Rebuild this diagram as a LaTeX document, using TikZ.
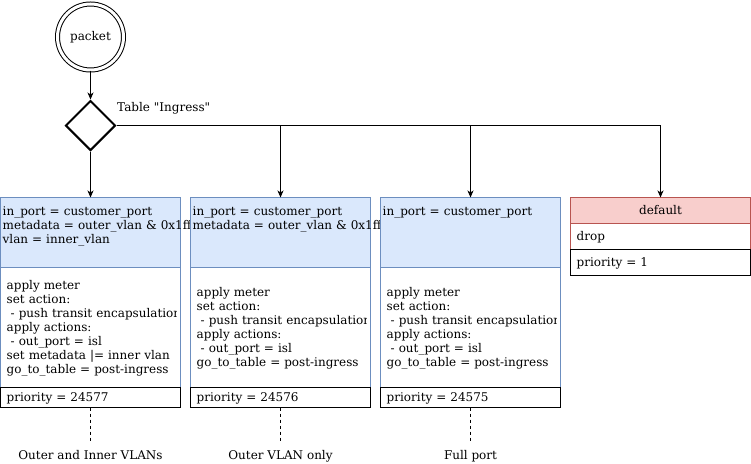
\documentclass[tikz,border=0pt]{standalone}
\usepackage{fontspec}
\setmainfont{DejaVu Serif}[Ligatures=TeXOff]
\usetikzlibrary{shapes.geometric,arrows.meta}
\definecolor{bfill}{HTML}{DAE8FC}
\definecolor{bstroke}{HTML}{6C8EBF}
\definecolor{rfill}{HTML}{F8CECC}
\definecolor{rstroke}{HTML}{B85450}
\tikzset{
  arr/.style={draw=black, line width=1pt, -{Stealth[length=7pt,width=6pt,inset=2pt]}},
  dashline/.style={draw=black, line width=1pt, dash pattern=on 3pt off 3pt},
  hdr/.style={draw=bstroke, fill=bfill, rectangle, minimum width=180pt, minimum height=70pt, anchor=north west, inner sep=0pt, outer sep=0pt, line width=1pt},
  bodybox/.style={draw=bstroke, fill=white, rectangle, minimum width=180pt, minimum height=120pt, anchor=north west, inner sep=0pt, outer sep=0pt, line width=1pt},
  priobox/.style={draw=black, fill=white, rectangle, minimum width=180pt, minimum height=20pt, anchor=north west, inner sep=0pt, outer sep=0pt, line width=1pt},
  rhdr/.style={draw=rstroke, fill=rfill, rectangle, minimum width=180pt, minimum height=26pt, anchor=north west, inner sep=0pt, outer sep=0pt, line width=1pt},
  rbody/.style={draw=rstroke, fill=white, rectangle, minimum width=180pt, minimum height=26pt, anchor=north west, inner sep=0pt, outer sep=0pt, line width=1pt},
  rprio/.style={draw=black, fill=white, rectangle, minimum width=180pt, minimum height=26pt, anchor=north west, inner sep=0pt, outer sep=0pt, line width=1pt},
  txt/.style={inner sep=0pt, anchor=base west, text width=320pt, align=left},
  lbl/.style={inner xsep=0pt, inner ysep=6.5pt, anchor=base},
}
\begin{document}
\begin{tikzpicture}[x=1pt,y=-1pt,font=\fontsize{12}{14}\selectfont]
\useasboundingbox (0,0) rectangle (751,463);

% start
\node[circle, draw, line width=1pt, double, double distance=3pt, minimum size=66pt, inner sep=0pt] (pkt) at (90.5,37) {packet};
\node[diamond, draw, line width=2pt, minimum size=50pt, inner sep=0pt, aspect=1] (dia) at (90.5,125.5) {};
\node[inner sep=0pt, anchor=base west] (tbl) at (117,111) {Table "Ingress"};

% box 1
\node[hdr] (h1) at (0.5,197.5) {};
\node[txt] (h1t) at ([xshift=2pt,yshift=-18pt]h1.north west) {in\_port = customer\_port\\metadata = outer\_vlan \& 0x1fff\\vlan = inner\_vlan};
\node[bodybox] (b1) at (h1.south west) {};
\begin{scope}
\clip (b1.north west) rectangle ([xshift=-4pt]b1.south east);
\node[txt] (b1t) at ([xshift=6pt,yshift=-22pt]b1.north west) {apply meter\\set action:\\\ - push transit encapsulation\\apply actions:\\\ - out\_port = isl\\set metadata |= inner vlan\\go\_to\_table = post-ingress};
\end{scope}
\node[priobox] (p1) at (b1.south west) {};
\node[txt] (p1t) at ([xshift=6pt,yshift=-14pt]p1.north west) {priority = 24577};

% box 2
\node[hdr] (h2) at (190.5,197.5) {};
\node[txt] (h2t) at ([xshift=2pt,yshift=-18pt]h2.north west) {in\_port = customer\_port\\metadata = outer\_vlan \& 0x1fff};
\node[bodybox] (b2) at (h2.south west) {};
\begin{scope}
\clip (b2.north west) rectangle ([xshift=-4pt]b2.south east);
\node[txt] (b2t) at ([xshift=6pt,yshift=-29pt]b2.north west) {apply meter\\set action:\\\ - push transit encapsulation\\apply actions:\\\ - out\_port = isl\\go\_to\_table = post-ingress};
\end{scope}
\node[priobox] (p2) at (b2.south west) {};
\node[txt] (p2t) at ([xshift=6pt,yshift=-14pt]p2.north west) {priority = 24576};

% box 3
\node[hdr] (h3) at (380.5,197.5) {};
\node[txt] (h3t) at ([xshift=2pt,yshift=-18pt]h3.north west) {in\_port = customer\_port};
\node[bodybox] (b3) at (h3.south west) {};
\begin{scope}
\clip (b3.north west) rectangle ([xshift=-4pt]b3.south east);
\node[txt] (b3t) at ([xshift=6pt,yshift=-29pt]b3.north west) {apply meter\\set action:\\\ - push transit encapsulation\\apply actions:\\\ - out\_port = isl\\go\_to\_table = post-ingress};
\end{scope}
\node[priobox] (p3) at (b3.south west) {};
\node[txt] (p3t) at ([xshift=6pt,yshift=-14pt]p3.north west) {priority = 24575};

% default
\node[rhdr] (d1) at (570.5,197.5) {};
\node[inner sep=0pt, anchor=base] (d1t) at ([yshift=-16.5pt]d1.north) {default};
\node[rbody] (d2) at (d1.south west) {};
\node[txt] (d2t) at ([xshift=6pt,yshift=-16.5pt]d2.north west) {drop};
\node[rprio] (d3) at (d2.south west) {};
\node[txt] (d3t) at ([xshift=6pt,yshift=-16.5pt]d3.north west) {priority = 1};

% labels
\node[lbl] (l1) at (90.5,459) {Outer and Inner VLANs};
\node[lbl] (l2) at (280.5,459) {Outer VLAN only};
\node[lbl] (l3) at (470.5,459) {Full port};

% connectors
\draw[arr] (pkt.south) -- (dia.north);
\draw[arr] (dia.south) -- (h1.north);
\draw[arr] (dia.east) -| (d1.north);
\draw[arr] (dia.east -| h2.north) -- (h2.north);
\draw[arr] (dia.east -| h3.north) -- (h3.north);
\draw[dashline] (p1.south) -- (l1.north);
\draw[dashline] (p2.south) -- (l2.north);
\draw[dashline] (p3.south) -- (l3.north);
\end{tikzpicture}
\end{document}
